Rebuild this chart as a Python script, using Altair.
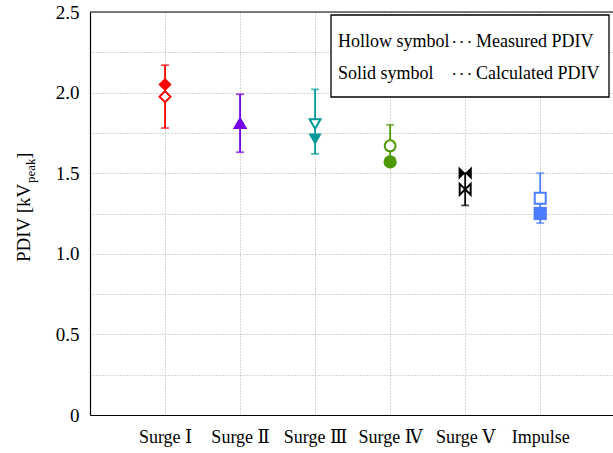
import altair as alt
import pandas as pd

SERIF = "Liberation Serif, DejaVu Serif, Noto Sans CJK JP"

categories = ["Surge Ⅰ", "Surge Ⅱ", "Surge Ⅲ", "Surge Ⅳ", "Surge Ⅴ", "Impulse"]
positions = [1, 2, 3, 4, 5, 6]
measured = [1.975, 1.81, 1.805, 1.67, 1.40, 1.345]
calculated = [2.05, 1.81, 1.71, 1.57, 1.50, 1.25]
err_low = [1.78, 1.63, 1.62, 1.55, 1.30, 1.19]
err_high = [2.17, 1.99, 2.02, 1.80, 1.50, 1.50]
colors = ["#ff0000", "#7300e6", "#009999", "#4c9900", "#000000", "#4a7dff"]
bowtie = "M-1,-1L1,1L1,-1L-1,1Z"
shapes = ["diamond", "triangle-up", "triangle-down", "circle", bowtie, "square"]
y_ticks = [0, 0.25, 0.5, 0.75, 1.0, 1.25, 1.5, 1.75, 2.0, 2.25, 2.5]

legend_left = ["Hollow symbol", "Solid symbol"]
legend_dots = ["· · ·", "· · ·"]
legend_right = ["Measured PDIV", "Calculated PDIV"]

df = pd.DataFrame({
    "pos": positions, "cat": categories, "measured": measured,
    "calculated": calculated, "lo": err_low, "hi": err_high,
})

label_arr = "[" + ",".join("'" + c + "'" for c in categories) + "]"

x_axis = alt.Axis(values=positions, labelExpr=f"{label_arr}[datum.value-1]", title=None,
                  grid=True, gridDash=[1, 2], gridColor="#aaa", gridWidth=1,
                  ticks=False, labelFont=SERIF, labelFontSize=18, labelColor="black",
                  labelPadding=13, domainColor="black", domainWidth=1.2)
y_axis = alt.Axis(values=y_ticks,
                  labelExpr="datum.value == 0 ? '0' : ((datum.value*2) % 1 == 0 ? format(datum.value, '.1f') : '')",
                  title=None, grid=True, gridDash=[1, 2], gridColor="#aaa", gridWidth=1,
                  ticks=False, labelFont=SERIF, labelFontSize=19, labelColor="black",
                  labelPadding=11, domainColor="black", domainWidth=1.2)

xs = alt.Scale(domain=[0, 6.97], nice=False, zero=False)
ys = alt.Scale(domain=[0, 2.5], nice=False, zero=False)
cscale = alt.Scale(domain=categories, range=colors)
sscale = alt.Scale(domain=categories, range=shapes)

X = alt.X("pos:Q", scale=xs, axis=x_axis)

base = alt.Chart(df)

rule = base.mark_rule(strokeWidth=1.8).encode(
    x=X, y=alt.Y("lo:Q", scale=ys, axis=y_axis), y2="hi:Q",
    color=alt.Color("cat:N", scale=cscale, legend=None))
cap_hi = base.mark_tick(orient="horizontal", size=8, thickness=1.8).encode(
    x=X, y=alt.Y("hi:Q", scale=ys, axis=y_axis),
    color=alt.Color("cat:N", scale=cscale, legend=None))
cap_lo = base.mark_tick(orient="horizontal", size=8, thickness=1.8).encode(
    x=X, y=alt.Y("lo:Q", scale=ys, axis=y_axis),
    color=alt.Color("cat:N", scale=cscale, legend=None))
hollow = base.mark_point(filled=False, fill="white", fillOpacity=1, strokeWidth=2,
                         size=120, opacity=1).encode(
    x=X, y=alt.Y("measured:Q", scale=ys, axis=y_axis),
    stroke=alt.Stroke("cat:N", scale=cscale, legend=None),
    shape=alt.Shape("cat:N", scale=sscale, legend=None))
solid = base.mark_point(filled=True, size=175, opacity=1).encode(
    x=X, y=alt.Y("calculated:Q", scale=ys, axis=y_axis),
    color=alt.Color("cat:N", scale=cscale, legend=None),
    shape=alt.Shape("cat:N", scale=sscale, legend=None))

top_border = alt.Chart(pd.DataFrame({"a": [0]})).mark_rule(color="black", strokeWidth=1.2).encode(
    y=alt.value(0), x=alt.value(0), x2=alt.value(523))

box = alt.Chart(pd.DataFrame({"a": [0]})).mark_rect(
    fill="white", stroke="black", strokeWidth=1.3).encode(
    x=alt.value(241), x2=alt.value(519), y=alt.value(3), y2=alt.value(85))


def legend_text(txt, xpos, ypos, size=18, bold=False):
    return alt.Chart(pd.DataFrame({"t": [txt]})).mark_text(
        align="left", baseline="middle", font=SERIF, fontSize=size, color="black",
        fontWeight="bold" if bold else "normal").encode(
        x=alt.value(xpos), y=alt.value(ypos), text="t:N")


legs = [
    legend_text(legend_left[0], 248, 30), legend_text(legend_left[1], 248, 62),
    legend_text(legend_dots[0], 362, 30, 13, True), legend_text(legend_dots[1], 362, 62, 13, True),
    legend_text(legend_right[0], 386, 30), legend_text(legend_right[1], 386, 62),
]

title_main = alt.Chart(pd.DataFrame({"t": ["PDIV [kV"]})).mark_text(
    angle=270, align="left", baseline="alphabetic", font=SERIF, fontSize=19, color="black").encode(
    x=alt.value(-60), y=alt.value(250), text="t:N")
title_sub = alt.Chart(pd.DataFrame({"t": ["peak"]})).mark_text(
    angle=270, align="left", baseline="alphabetic", font=SERIF, fontSize=13, color="black").encode(
    x=alt.value(-55), y=alt.value(171), text="t:N")
title_end = alt.Chart(pd.DataFrame({"t": ["]"]})).mark_text(
    angle=270, align="left", baseline="alphabetic", font=SERIF, fontSize=19, color="black").encode(
    x=alt.value(-60), y=alt.value(147), text="t:N")

chart = alt.layer(
    rule, cap_hi, cap_lo, hollow, solid, top_border, box, *legs,
    title_main, title_sub, title_end
).properties(
    width=523, height=403,
    autosize=alt.AutoSizeParams(type="none"),
    padding={"left": 90, "top": 12, "right": 0, "bottom": 38},
    background="white",
).configure_view(stroke=None)

chart.save("out.html", embed_options={"renderer": "svg", "actions": False})
